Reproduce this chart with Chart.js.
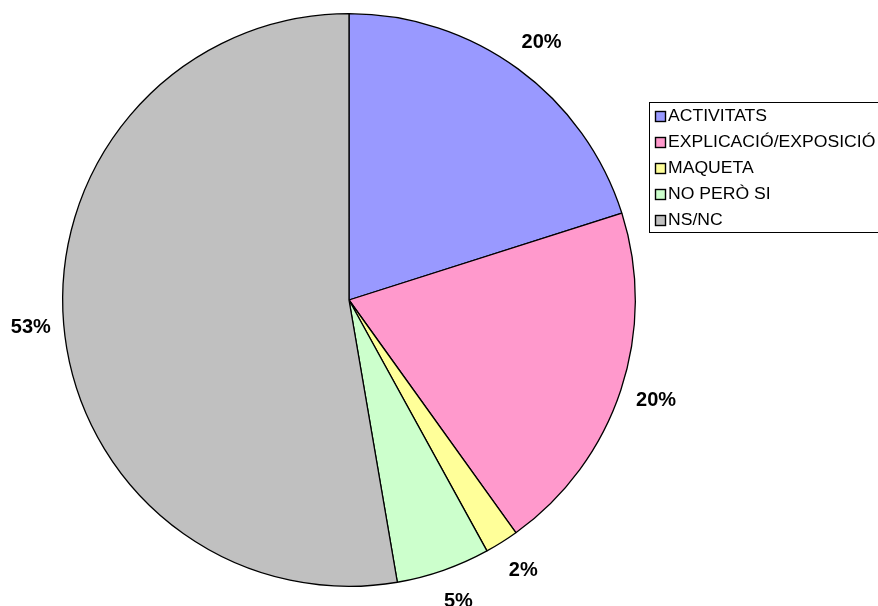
<!DOCTYPE html>
<html>
<head>
<meta charset="utf-8">
<script src="https://cdn.jsdelivr.net/npm/chart.js@4/dist/chart.umd.min.js"></script>
<style>
  body { margin: 0; background: #fff; }
  canvas { display: block; }
</style>
</head>
<body>
<canvas id="pie" width="878" height="606"></canvas>
<script>
const categories = ["ACTIVITATS", "EXPLICACIÓ/EXPOSICIÓ", "MAQUETA", "NO PERÒ SI", "NS/NC"];
const shares = [20.1, 20.0, 1.9, 5.3, 52.7];
const sliceColors = ["#9999FF", "#FF99CC", "#FFFF99", "#CCFFCC", "#C0C0C0"];

// percentage labels just outside each slice
const outsideLabels = {
  id: "outsideLabels",
  afterDatasetsDraw(chart) {
    const ctx = chart.ctx;
    const meta = chart.getDatasetMeta(0);
    ctx.save();
    ctx.fillStyle = "#000";
    ctx.font = "bold 20px 'Liberation Sans', Arial, sans-serif";
    ctx.textAlign = "center";
    ctx.textBaseline = "middle";
    meta.data.forEach((arc, i) => {
      const p = arc.getProps(["x", "y", "startAngle", "endAngle", "outerRadius"], true);
      const mid = (p.startAngle + p.endAngle) / 2;
      const r = p.outerRadius + 33;
      const cx = Math.cos(mid);
      // right-hand labels sit a little further right in the original
      const tx = p.x + cx * r + (cx > 0 ? 4 : 0);
      const ty = p.y + Math.sin(mid) * r;
      ctx.fillText(Math.round(shares[i]) + "%", tx, ty);
    });
    ctx.restore();
  }
};

// boxed legend on the right, like the spreadsheet one
const boxLegend = {
  id: "boxLegend",
  afterDraw(chart) {
    const ctx = chart.ctx;
    const left = 649, top = 102, bottom = 232;
    ctx.save();
    ctx.strokeStyle = "#000";
    ctx.lineWidth = 1;
    ctx.strokeRect(left + 0.5, top + 0.5, chart.width - left + 10, bottom - top);
    ctx.font = "16px 'Liberation Sans', Arial, sans-serif";
    ctx.textBaseline = "middle";
    chart.data.labels.forEach((label, i) => {
      const y = 115.5 + i * 26;
      const sy = Math.round(y) - 4.5;
      ctx.fillStyle = sliceColors[i];
      ctx.fillRect(655.5, sy, 10, 10);
      ctx.strokeStyle = "#000";
      ctx.lineWidth = 1.4;
      ctx.strokeRect(655.5, sy, 10, 10);
      ctx.fillStyle = "#000";
      ctx.save();
      ctx.translate(668, y + 1);
      ctx.scale(1.1, 1);
      ctx.fillText(label, 0, 0);
      ctx.restore();
    });
    ctx.restore();
  }
};

new Chart(document.getElementById("pie"), {
  type: "pie",
  data: {
    labels: categories,
    datasets: [{
      data: shares,
      backgroundColor: sliceColors,
      borderColor: "#000",
      borderWidth: 1.3
    }]
  },
  options: {
    responsive: false,
    animation: false,
    layout: { padding: { left: 62, right: 242, top: 13, bottom: 19 } },
    plugins: {
      legend: { display: false },
      tooltip: { enabled: false }
    }
  },
  plugins: [outsideLabels, boxLegend]
});
</script>
</body>
</html>
